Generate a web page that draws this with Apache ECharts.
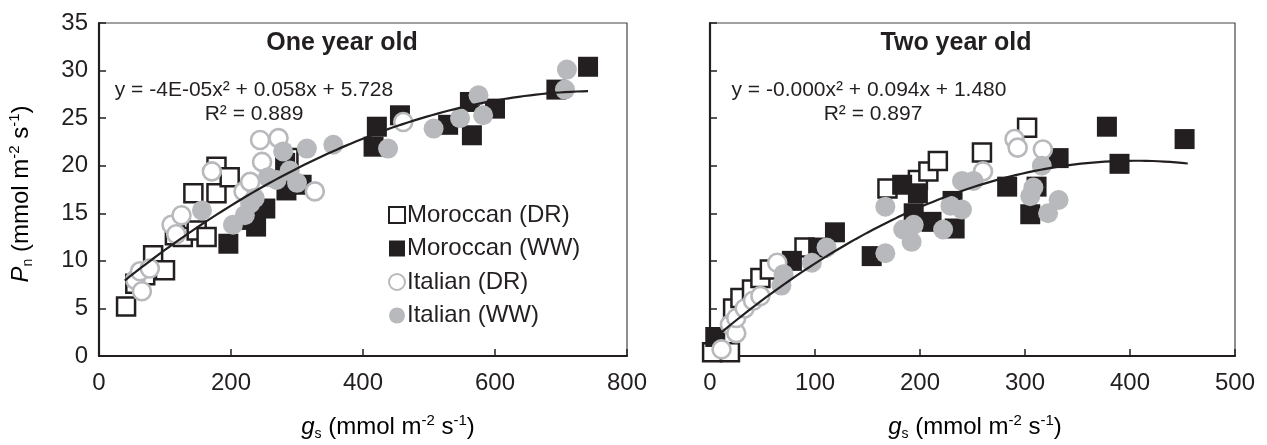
<!DOCTYPE html>
<html>
<head>
<meta charset="utf-8">
<script src="https://cdn.jsdelivr.net/npm/echarts@6/dist/echarts.min.js"></script>
<style>
  html, body { margin: 0; padding: 0; background: #fff; }
  #chart { width: 1267px; height: 445px; }
</style>
</head>
<body>
<div id="chart"></div>
<script>
// Net photosynthesis (Pn) against stomatal conductance (gs), two tree ages
const panelTitles = ['One year old', 'Two year old'];
const seriesNames = ['Moroccan (DR)', 'Moroccan (WW)', 'Italian (DR)', 'Italian (WW)'];

// [gs, Pn] pairs — one year old trees
const oneYearMoroccanDR = [[41,5.2],[55,7.6],[70,8.5],[82,10.6],[100,9.0],[115,12.7],[127,12.5],[143,17.1],[148,13.2],[163,12.5],[178,19.9],[178,17.1],[198,18.8],[287,20.8]];
const oneYearMoroccanWW = [[196,11.8],[226,14.3],[238,13.6],[252,15.5],[282,20.3],[284,17.4],[307,18.0],[416,22.0],[421,24.1],[456,25.3],[529,24.3],[562,26.7],[565,23.2],[600,26.0],[693,28.0],[741,30.4]];
const oneYearItalianDR = [[55,8.0],[62,8.9],[65,6.8],[77,9.2],[110,13.8],[117,12.8],[125,14.8],[171,19.4],[219,17.3],[229,18.3],[244,22.7],[247,20.4],[272,22.9],[327,17.3],[461,24.6]];
const oneYearItalianWW = [[156,15.3],[203,13.8],[221,14.8],[229,16.0],[236,16.6],[256,18.8],[269,18.5],[279,21.5],[289,19.5],[300,18.2],[315,21.8],[355,22.2],[438,21.8],[507,23.9],[547,25.0],[575,27.4],[582,25.3],[706,28.0],[709,30.1]];

// [gs, Pn] pairs — two year old trees
const twoYearMoroccanDR = [[2,0.4],[19,0.4],[22,5.0],[29,6.1],[40,7.0],[48,8.2],[57,9.1],[90,11.4],[169,17.6],[198,18.5],[208,19.4],[217,20.5],[259,21.4],[302,24.0]];
const twoYearMoroccanWW = [[5,2.0],[78,10.0],[103,11.4],[119,13.0],[154,10.5],[183,18.0],[194,15.0],[198,17.1],[211,14.1],[231,16.3],[233,13.4],[283,17.8],[305,14.9],[311,17.8],[332,20.8],[378,24.1],[390,20.2],[452,22.8]];
const twoYearItalianDR = [[11,0.7],[19,3.3],[25,2.4],[25,4.0],[33,5.0],[41,5.8],[48,6.3],[64,9.8],[260,19.4],[290,22.8],[293,21.9],[317,21.7]];
const twoYearItalianWW = [[68,7.4],[70,8.6],[97,9.8],[111,11.4],[167,10.8],[167,15.7],[184,13.3],[192,12.0],[194,13.8],[222,13.3],[229,15.8],[240,15.4],[240,18.4],[251,18.4],[305,16.8],[308,17.7],[316,20.0],[322,15.0],[332,16.4]];

// Polynomial trendlines: [a, b, c] for y = a·x² + b·x + c, and the gs span they cover
const fitOneYear = [-3.8e-5, 0.058, 5.728];
const fitOneYearSpan = [39, 741];
const fitTwoYear = [-1.16e-4, 0.094, 1.480];
const fitTwoYearSpan = [3, 455];
const equationOneYear = ['y = -4E-05x² + 0.058x + 5.728', 'R² = 0.889'];
const equationTwoYear = ['y = -0.000x² + 0.094x + 1.480', 'R² = 0.897'];

// Axis ranges
const yRange = [0, 35, 5];
const xRangeOneYear = [0, 800, 200];
const xRangeTwoYear = [0, 500, 100];

const INK = '#231f20';
const GREY = '#b8b9bc';
const FONT = '"Liberation Sans", Arial, Helvetica, sans-serif';

function trendPoints(coef, span) {
  const pts = [];
  const n = 80;
  for (let i = 0; i <= n; i++) {
    const x = span[0] + (span[1] - span[0]) * i / n;
    pts.push([x, coef[0] * x * x + coef[1] * x + coef[2]]);
  }
  return pts;
}

const markerStyles = [
  { symbol: 'rect', symbolSize: 18, itemStyle: { color: '#ffffff', borderColor: INK, borderWidth: 2.5, opacity: 1 } },
  { symbol: 'rect', symbolSize: 20, itemStyle: { color: INK, borderWidth: 0, opacity: 1 } },
  { symbol: 'circle', symbolSize: 18, itemStyle: { color: '#ffffff', borderColor: GREY, borderWidth: 2.6, opacity: 1 } },
  { symbol: 'circle', symbolSize: 20, itemStyle: { color: GREY, borderWidth: 0, opacity: 1 } }
];

const panels = [
  [oneYearMoroccanDR, oneYearMoroccanWW, oneYearItalianDR, oneYearItalianWW],
  [twoYearMoroccanDR, twoYearMoroccanWW, twoYearItalianDR, twoYearItalianWW]
];

const series = [];
panels.forEach((groups, p) => {
  groups.forEach((data, k) => {
    series.push(Object.assign({
      type: 'scatter',
      name: seriesNames[k],
      xAxisIndex: p,
      yAxisIndex: p,
      data: data,
      clip: false,
      z: 2 + k,
      emphasis: { disabled: true }
    }, JSON.parse(JSON.stringify(markerStyles[k]))));
  });
});
[[fitOneYear, fitOneYearSpan], [fitTwoYear, fitTwoYearSpan]].forEach(([coef, span], p) => {
  series.push({
    type: 'line',
    name: 'trend' + p,
    xAxisIndex: p,
    yAxisIndex: p,
    data: trendPoints(coef, span),
    showSymbol: false,
    smooth: false,
    z: 10,
    lineStyle: { color: INK, width: 2.2 },
    emphasis: { disabled: true }
  });
});

function xAxisFor(gridIndex, range) {
  return {
    type: 'value', gridIndex, min: range[0], max: range[1], interval: range[2],
    axisLine: { show: true, onZero: false, lineStyle: { color: INK, width: 2.2 } },
    axisTick: { show: true, inside: true, length: 7, lineStyle: { color: INK, width: 1.5 } },
    axisLabel: { show: true, color: INK, fontSize: 24, fontFamily: FONT, margin: 15 },
    splitLine: { show: false }
  };
}
function yAxisFor(gridIndex, showLabels) {
  return {
    type: 'value', gridIndex, min: yRange[0], max: yRange[1], interval: yRange[2],
    axisLine: { show: true, onZero: false, lineStyle: { color: INK, width: 2.2 } },
    axisTick: { show: true, inside: true, length: 7, lineStyle: { color: INK, width: 1.5 } },
    axisLabel: { show: showLabels, color: INK, fontSize: 24, fontFamily: FONT, margin: 11 },
    splitLine: { show: false }
  };
}

const unitRich = {
  t: { fontSize: 24, fontFamily: FONT, color: INK, lineHeight: 28, verticalAlign: 'middle' },
  it: { fontSize: 24, fontFamily: FONT, fontStyle: 'italic', color: INK, lineHeight: 28, verticalAlign: 'middle' },
  sub: { fontSize: 14, fontFamily: FONT, color: INK, lineHeight: 13, verticalAlign: 'bottom' },
  sup: { fontSize: 15, fontFamily: FONT, color: INK, lineHeight: 15, verticalAlign: 'top' }
};
const unitTail = '{t| (mmol m}{sup|-2}{t| s}{sup|-1}{t|)}';

function label(x, y, text, font, extra) {
  return Object.assign({
    type: 'text', x, y, silent: true,
    style: { text, font, fill: INK, textAlign: 'center', textVerticalAlign: 'middle' }
  }, extra || {});
}

const option = {
  animation: false,
  backgroundColor: '#ffffff',
  grid: [
    { left: 99, top: 23, width: 528, height: 333, show: true, borderColor: '#444', borderWidth: 1.2, backgroundColor: 'transparent' },
    { left: 710, top: 23, width: 525, height: 333, show: true, borderColor: '#444', borderWidth: 1.2, backgroundColor: 'transparent' }
  ],
  xAxis: [xAxisFor(0, xRangeOneYear), xAxisFor(1, xRangeTwoYear)],
  yAxis: [yAxisFor(0, true), yAxisFor(1, false)],
  legend: {
    data: seriesNames,
    orient: 'vertical',
    left: 383,
    top: 198,
    itemWidth: 16,
    itemHeight: 16,
    itemGap: 9.5,
    selectedMode: false,
    textStyle: { color: INK, fontSize: 24, fontFamily: FONT, lineHeight: 24, padding: [0, 0, 0, -3] }
  },
  graphic: [
    label(342, 43, panelTitles[0], 'bold 25px ' + FONT),
    label(956, 43, panelTitles[1], 'bold 25px ' + FONT),
    label(254, 90, equationOneYear[0], '21px ' + FONT),
    label(254, 114, equationOneYear[1], '21px ' + FONT),
    label(869, 90, equationTwoYear[0], '21px ' + FONT),
    label(873, 114, equationTwoYear[1], '21px ' + FONT),
    {
      type: 'text', x: 388, y: 427, silent: true,
      style: { text: '{it|g}{sub|s}' + unitTail, rich: unitRich, textAlign: 'center', textVerticalAlign: 'middle' }
    },
    {
      type: 'text', x: 975, y: 427, silent: true,
      style: { text: '{it|g}{sub|s}' + unitTail, rich: unitRich, textAlign: 'center', textVerticalAlign: 'middle' }
    },
    {
      type: 'text', x: 21, y: 194, rotation: Math.PI / 2, silent: true,
      style: { text: '{it|P}{sub|n}' + unitTail, rich: unitRich, textAlign: 'center', textVerticalAlign: 'middle' }
    }
  ],
  series
};

const chart = echarts.init(document.getElementById('chart'), null, { renderer: 'canvas' });
chart.setOption(option);
</script>
</body>
</html>
